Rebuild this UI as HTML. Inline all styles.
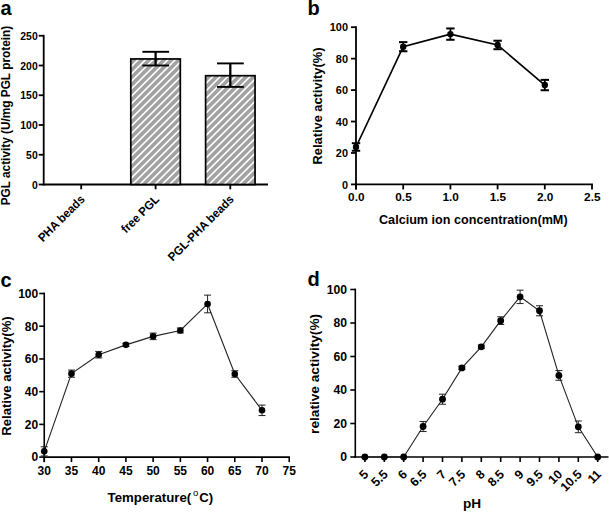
<!DOCTYPE html>
<html><head><meta charset="utf-8"><style>
html,body{margin:0;padding:0;background:#fff;width:609px;height:512px;overflow:hidden}
svg{display:block}
text{font-family:"Liberation Sans",sans-serif;font-weight:bold;fill:#000}
</style></head><body>
<svg width="609" height="512" viewBox="0 0 609 512">

<rect width="609" height="512" fill="#fff"/>
<text x="0.60" y="14.60" font-size="20" text-anchor="start">a</text>
<line x1="43.70" y1="34.85" x2="43.70" y2="185.40" stroke="#000" stroke-width="1.8"/>
<line x1="38.70" y1="184.50" x2="43.70" y2="184.50" stroke="#000" stroke-width="1.8"/>
<text x="37.70" y="188.50" font-size="11.2" text-anchor="end" textLength="5.79" lengthAdjust="spacingAndGlyphs">0</text>
<line x1="38.70" y1="154.75" x2="43.70" y2="154.75" stroke="#000" stroke-width="1.8"/>
<text x="37.70" y="158.75" font-size="11.2" text-anchor="end" textLength="11.58" lengthAdjust="spacingAndGlyphs">50</text>
<line x1="38.70" y1="125.00" x2="43.70" y2="125.00" stroke="#000" stroke-width="1.8"/>
<text x="37.70" y="129.00" font-size="11.2" text-anchor="end" textLength="17.37" lengthAdjust="spacingAndGlyphs">100</text>
<line x1="38.70" y1="95.25" x2="43.70" y2="95.25" stroke="#000" stroke-width="1.8"/>
<text x="37.70" y="99.25" font-size="11.2" text-anchor="end" textLength="17.37" lengthAdjust="spacingAndGlyphs">150</text>
<line x1="38.70" y1="65.50" x2="43.70" y2="65.50" stroke="#000" stroke-width="1.8"/>
<text x="37.70" y="69.50" font-size="11.2" text-anchor="end" textLength="17.37" lengthAdjust="spacingAndGlyphs">200</text>
<line x1="38.70" y1="35.75" x2="43.70" y2="35.75" stroke="#000" stroke-width="1.8"/>
<text x="37.70" y="39.75" font-size="11.2" text-anchor="end" textLength="17.37" lengthAdjust="spacingAndGlyphs">250</text>
<line x1="42.80" y1="184.50" x2="268.00" y2="184.50" stroke="#000" stroke-width="1.8"/>
<line x1="81.20" y1="184.50" x2="81.20" y2="189.30" stroke="#000" stroke-width="1.8"/>
<line x1="155.60" y1="184.50" x2="155.60" y2="189.30" stroke="#000" stroke-width="1.8"/>
<line x1="230.30" y1="184.50" x2="230.30" y2="189.30" stroke="#000" stroke-width="1.8"/>
<clipPath id="cb0"><rect x="130.80" y="58.95" width="49.50" height="125.55"/></clipPath>
<rect x="130.80" y="58.95" width="49.50" height="125.55" fill="#a2a2a2"/>
<path clip-path="url(#cb0)" d="M125.80,49.72L185.30,-9.78M125.80,57.16L185.30,-2.34M125.80,64.60L185.30,5.10M125.80,72.04L185.30,12.54M125.80,79.48L185.30,19.98M125.80,86.92L185.30,27.42M125.80,94.36L185.30,34.86M125.80,101.80L185.30,42.30M125.80,109.24L185.30,49.74M125.80,116.68L185.30,57.18M125.80,124.12L185.30,64.62M125.80,131.56L185.30,72.06M125.80,139.00L185.30,79.50M125.80,146.44L185.30,86.94M125.80,153.88L185.30,94.38M125.80,161.32L185.30,101.82M125.80,168.76L185.30,109.26M125.80,176.20L185.30,116.70M125.80,183.64L185.30,124.14M125.80,191.08L185.30,131.58M125.80,198.52L185.30,139.02M125.80,205.96L185.30,146.46M125.80,213.40L185.30,153.90M125.80,220.84L185.30,161.34M125.80,228.28L185.30,168.78M125.80,235.72L185.30,176.22M125.80,243.16L185.30,183.66M125.80,250.60L185.30,191.10" stroke="#fff" stroke-width="1.6" fill="none"/>
<rect x="130.80" y="58.95" width="49.50" height="125.55" fill="none" stroke="#000" stroke-width="1.7"/>
<clipPath id="cb1"><rect x="205.60" y="75.70" width="49.45" height="108.80"/></clipPath>
<rect x="205.60" y="75.70" width="49.45" height="108.80" fill="#a2a2a2"/>
<path clip-path="url(#cb1)" d="M200.60,66.50L260.05,7.05M200.60,73.94L260.05,14.49M200.60,81.38L260.05,21.93M200.60,88.82L260.05,29.37M200.60,96.26L260.05,36.81M200.60,103.70L260.05,44.25M200.60,111.14L260.05,51.69M200.60,118.58L260.05,59.13M200.60,126.02L260.05,66.57M200.60,133.46L260.05,74.01M200.60,140.90L260.05,81.45M200.60,148.34L260.05,88.89M200.60,155.78L260.05,96.33M200.60,163.22L260.05,103.77M200.60,170.66L260.05,111.21M200.60,178.10L260.05,118.65M200.60,185.54L260.05,126.09M200.60,192.98L260.05,133.53M200.60,200.42L260.05,140.97M200.60,207.86L260.05,148.41M200.60,215.30L260.05,155.85M200.60,222.74L260.05,163.29M200.60,230.18L260.05,170.73M200.60,237.62L260.05,178.17M200.60,245.06L260.05,185.61M200.60,252.50L260.05,193.05" stroke="#fff" stroke-width="1.6" fill="none"/>
<rect x="205.60" y="75.70" width="49.45" height="108.80" fill="none" stroke="#000" stroke-width="1.7"/>
<line x1="155.60" y1="51.80" x2="155.60" y2="65.50" stroke="#000" stroke-width="2.3"/>
<line x1="142.40" y1="51.80" x2="169.10" y2="51.80" stroke="#000" stroke-width="1.9"/>
<line x1="142.40" y1="65.50" x2="169.10" y2="65.50" stroke="#000" stroke-width="1.9"/>
<line x1="230.30" y1="63.40" x2="230.30" y2="86.90" stroke="#000" stroke-width="2.3"/>
<line x1="217.00" y1="63.40" x2="243.80" y2="63.40" stroke="#000" stroke-width="1.9"/>
<line x1="217.00" y1="86.90" x2="243.80" y2="86.90" stroke="#000" stroke-width="1.9"/>
<text x="0" y="0" font-size="12" text-anchor="end" textLength="60.2" lengthAdjust="spacingAndGlyphs" transform="translate(85.50,200.00) rotate(-45)">PHA beads</text>
<text x="0" y="0" font-size="12" text-anchor="end" textLength="47.8" lengthAdjust="spacingAndGlyphs" transform="translate(159.90,200.00) rotate(-45)">free PGL</text>
<text x="0" y="0" font-size="12" text-anchor="end" textLength="87.4" lengthAdjust="spacingAndGlyphs" transform="translate(234.60,200.00) rotate(-45)">PGL-PHA beads</text>
<text x="0" y="0" font-size="12.3" text-anchor="middle" textLength="179.5" lengthAdjust="spacingAndGlyphs" transform="translate(10.00,115.60) rotate(-90)">PGL activity (U/mg PGL protein)</text>
<text x="307.40" y="14.60" font-size="20" text-anchor="start">b</text>
<line x1="356.00" y1="26.30" x2="356.00" y2="189.40" stroke="#000" stroke-width="1.8"/>
<line x1="351.00" y1="184.40" x2="356.00" y2="184.40" stroke="#000" stroke-width="1.8"/>
<text x="348.00" y="188.50" font-size="11.5" text-anchor="end" textLength="6.07" lengthAdjust="spacingAndGlyphs">0</text>
<line x1="351.00" y1="152.96" x2="356.00" y2="152.96" stroke="#000" stroke-width="1.8"/>
<text x="348.00" y="157.06" font-size="11.5" text-anchor="end" textLength="12.15" lengthAdjust="spacingAndGlyphs">20</text>
<line x1="351.00" y1="121.52" x2="356.00" y2="121.52" stroke="#000" stroke-width="1.8"/>
<text x="348.00" y="125.62" font-size="11.5" text-anchor="end" textLength="12.15" lengthAdjust="spacingAndGlyphs">40</text>
<line x1="351.00" y1="90.08" x2="356.00" y2="90.08" stroke="#000" stroke-width="1.8"/>
<text x="348.00" y="94.18" font-size="11.5" text-anchor="end" textLength="12.15" lengthAdjust="spacingAndGlyphs">60</text>
<line x1="351.00" y1="58.64" x2="356.00" y2="58.64" stroke="#000" stroke-width="1.8"/>
<text x="348.00" y="62.74" font-size="11.5" text-anchor="end" textLength="12.15" lengthAdjust="spacingAndGlyphs">80</text>
<line x1="351.00" y1="27.20" x2="356.00" y2="27.20" stroke="#000" stroke-width="1.8"/>
<text x="348.00" y="31.30" font-size="11.5" text-anchor="end" textLength="18.22" lengthAdjust="spacingAndGlyphs">100</text>
<line x1="355.10" y1="184.40" x2="592.90" y2="184.40" stroke="#000" stroke-width="1.8"/>
<line x1="356.00" y1="184.40" x2="356.00" y2="189.40" stroke="#000" stroke-width="1.8"/>
<text x="356.30" y="201.30" font-size="11.8" text-anchor="middle">0.0</text>
<line x1="403.20" y1="184.40" x2="403.20" y2="189.40" stroke="#000" stroke-width="1.8"/>
<text x="403.50" y="201.30" font-size="11.8" text-anchor="middle">0.5</text>
<line x1="450.40" y1="184.40" x2="450.40" y2="189.40" stroke="#000" stroke-width="1.8"/>
<text x="450.70" y="201.30" font-size="11.8" text-anchor="middle">1.0</text>
<line x1="497.60" y1="184.40" x2="497.60" y2="189.40" stroke="#000" stroke-width="1.8"/>
<text x="497.90" y="201.30" font-size="11.8" text-anchor="middle">1.5</text>
<line x1="544.80" y1="184.40" x2="544.80" y2="189.40" stroke="#000" stroke-width="1.8"/>
<text x="545.10" y="201.30" font-size="11.8" text-anchor="middle">2.0</text>
<line x1="592.00" y1="184.40" x2="592.00" y2="189.40" stroke="#000" stroke-width="1.8"/>
<text x="592.30" y="201.30" font-size="11.8" text-anchor="middle">2.5</text>
<text x="379.00" y="224.40" font-size="13.4" text-anchor="start" textLength="188.6" lengthAdjust="spacingAndGlyphs">Calcium ion concentration(mM)</text>
<text x="0" y="0" font-size="13.2" text-anchor="middle" textLength="116.8" lengthAdjust="spacingAndGlyphs" transform="translate(322.20,106.00) rotate(-90)">Relative activity(%)</text>
<polyline fill="none" stroke="#000" stroke-width="1.7" points="356.00,146.99 403.20,46.69 450.40,34.12 497.60,44.96 544.80,85.05"/>
<line x1="356.00" y1="143.21" x2="356.00" y2="150.76" stroke="#000" stroke-width="1.8"/>
<line x1="351.80" y1="143.21" x2="360.20" y2="143.21" stroke="#000" stroke-width="2"/>
<line x1="351.80" y1="150.76" x2="360.20" y2="150.76" stroke="#000" stroke-width="2"/>
<circle cx="356.00" cy="146.99" r="3.2" fill="#000"/>
<line x1="403.20" y1="42.13" x2="403.20" y2="51.25" stroke="#000" stroke-width="1.8"/>
<line x1="399.00" y1="42.13" x2="407.40" y2="42.13" stroke="#000" stroke-width="2"/>
<line x1="399.00" y1="51.25" x2="407.40" y2="51.25" stroke="#000" stroke-width="2"/>
<circle cx="403.20" cy="46.69" r="3.2" fill="#000"/>
<line x1="450.40" y1="28.46" x2="450.40" y2="39.78" stroke="#000" stroke-width="1.8"/>
<line x1="446.20" y1="28.46" x2="454.60" y2="28.46" stroke="#000" stroke-width="2"/>
<line x1="446.20" y1="39.78" x2="454.60" y2="39.78" stroke="#000" stroke-width="2"/>
<circle cx="450.40" cy="34.12" r="3.2" fill="#000"/>
<line x1="497.60" y1="40.72" x2="497.60" y2="49.21" stroke="#000" stroke-width="1.8"/>
<line x1="493.40" y1="40.72" x2="501.80" y2="40.72" stroke="#000" stroke-width="2"/>
<line x1="493.40" y1="49.21" x2="501.80" y2="49.21" stroke="#000" stroke-width="2"/>
<circle cx="497.60" cy="44.96" r="3.2" fill="#000"/>
<line x1="544.80" y1="79.86" x2="544.80" y2="90.24" stroke="#000" stroke-width="1.8"/>
<line x1="540.60" y1="79.86" x2="549.00" y2="79.86" stroke="#000" stroke-width="2"/>
<line x1="540.60" y1="90.24" x2="549.00" y2="90.24" stroke="#000" stroke-width="2"/>
<circle cx="544.80" cy="85.05" r="3.2" fill="#000"/>
<text x="0.60" y="286.80" font-size="20" text-anchor="start">c</text>
<line x1="44.25" y1="292.60" x2="44.25" y2="462.10" stroke="#000" stroke-width="1.6"/>
<line x1="39.25" y1="457.10" x2="44.25" y2="457.10" stroke="#000" stroke-width="1.6"/>
<text x="38.20" y="461.40" font-size="12" text-anchor="end">0</text>
<line x1="39.25" y1="424.38" x2="44.25" y2="424.38" stroke="#000" stroke-width="1.6"/>
<text x="38.20" y="428.68" font-size="12" text-anchor="end">20</text>
<line x1="39.25" y1="391.66" x2="44.25" y2="391.66" stroke="#000" stroke-width="1.6"/>
<text x="38.20" y="395.96" font-size="12" text-anchor="end">40</text>
<line x1="39.25" y1="358.94" x2="44.25" y2="358.94" stroke="#000" stroke-width="1.6"/>
<text x="38.20" y="363.24" font-size="12" text-anchor="end">60</text>
<line x1="39.25" y1="326.22" x2="44.25" y2="326.22" stroke="#000" stroke-width="1.6"/>
<text x="38.20" y="330.52" font-size="12" text-anchor="end">80</text>
<line x1="39.25" y1="293.50" x2="44.25" y2="293.50" stroke="#000" stroke-width="1.6"/>
<text x="38.20" y="297.80" font-size="12" text-anchor="end">100</text>
<line x1="43.35" y1="457.10" x2="290.00" y2="457.10" stroke="#000" stroke-width="1.6"/>
<line x1="44.25" y1="457.10" x2="44.25" y2="462.10" stroke="#000" stroke-width="1.6"/>
<text x="44.25" y="474.50" font-size="12" text-anchor="middle">30</text>
<line x1="71.47" y1="457.10" x2="71.47" y2="462.10" stroke="#000" stroke-width="1.6"/>
<text x="71.47" y="474.50" font-size="12" text-anchor="middle">35</text>
<line x1="98.69" y1="457.10" x2="98.69" y2="462.10" stroke="#000" stroke-width="1.6"/>
<text x="98.69" y="474.50" font-size="12" text-anchor="middle">40</text>
<line x1="125.91" y1="457.10" x2="125.91" y2="462.10" stroke="#000" stroke-width="1.6"/>
<text x="125.91" y="474.50" font-size="12" text-anchor="middle">45</text>
<line x1="153.13" y1="457.10" x2="153.13" y2="462.10" stroke="#000" stroke-width="1.6"/>
<text x="153.13" y="474.50" font-size="12" text-anchor="middle">50</text>
<line x1="180.35" y1="457.10" x2="180.35" y2="462.10" stroke="#000" stroke-width="1.6"/>
<text x="180.35" y="474.50" font-size="12" text-anchor="middle">55</text>
<line x1="207.57" y1="457.10" x2="207.57" y2="462.10" stroke="#000" stroke-width="1.6"/>
<text x="207.57" y="474.50" font-size="12" text-anchor="middle">60</text>
<line x1="234.79" y1="457.10" x2="234.79" y2="462.10" stroke="#000" stroke-width="1.6"/>
<text x="234.79" y="474.50" font-size="12" text-anchor="middle">65</text>
<line x1="262.01" y1="457.10" x2="262.01" y2="462.10" stroke="#000" stroke-width="1.6"/>
<text x="262.01" y="474.50" font-size="12" text-anchor="middle">70</text>
<line x1="289.23" y1="457.10" x2="289.23" y2="462.10" stroke="#000" stroke-width="1.6"/>
<text x="289.23" y="474.50" font-size="12" text-anchor="middle">75</text>
<text x="107.60" y="502.30" font-size="13.2" text-anchor="start" textLength="83.6" lengthAdjust="spacingAndGlyphs">Temperature(</text>
<text x="193.00" y="496.40" font-size="9.5" text-anchor="start" font-weight="normal" style="font-weight:normal">o</text>
<text x="199.20" y="502.30" font-size="13.2" text-anchor="start">C)</text>
<text x="0" y="0" font-size="13.3" text-anchor="middle" textLength="119.3" lengthAdjust="spacingAndGlyphs" transform="translate(10.70,376.00) rotate(-90)">Relative activity(%)</text>
<polyline fill="none" stroke="#222" stroke-width="1.1" points="44.25,451.37 71.47,373.66 98.69,354.69 125.91,344.87 153.13,336.36 180.35,330.47 207.57,303.97 234.79,373.99 262.01,410.31"/>
<line x1="44.25" y1="446.79" x2="44.25" y2="455.95" stroke="#222" stroke-width="1"/>
<line x1="40.75" y1="446.79" x2="47.75" y2="446.79" stroke="#222" stroke-width="1"/>
<line x1="40.75" y1="455.95" x2="47.75" y2="455.95" stroke="#222" stroke-width="1"/>
<circle cx="44.25" cy="451.37" r="3.3" fill="#000"/>
<line x1="71.47" y1="370.06" x2="71.47" y2="377.26" stroke="#222" stroke-width="1"/>
<line x1="67.97" y1="370.06" x2="74.97" y2="370.06" stroke="#222" stroke-width="1"/>
<line x1="67.97" y1="377.26" x2="74.97" y2="377.26" stroke="#222" stroke-width="1"/>
<circle cx="71.47" cy="373.66" r="3.3" fill="#000"/>
<line x1="98.69" y1="351.41" x2="98.69" y2="357.96" stroke="#222" stroke-width="1"/>
<line x1="95.19" y1="351.41" x2="102.19" y2="351.41" stroke="#222" stroke-width="1"/>
<line x1="95.19" y1="357.96" x2="102.19" y2="357.96" stroke="#222" stroke-width="1"/>
<circle cx="98.69" cy="354.69" r="3.3" fill="#000"/>
<line x1="125.91" y1="343.23" x2="125.91" y2="346.51" stroke="#222" stroke-width="1"/>
<line x1="122.41" y1="343.23" x2="129.41" y2="343.23" stroke="#222" stroke-width="1"/>
<line x1="122.41" y1="346.51" x2="129.41" y2="346.51" stroke="#222" stroke-width="1"/>
<circle cx="125.91" cy="344.87" r="3.3" fill="#000"/>
<line x1="153.13" y1="333.09" x2="153.13" y2="339.64" stroke="#222" stroke-width="1"/>
<line x1="149.63" y1="333.09" x2="156.63" y2="333.09" stroke="#222" stroke-width="1"/>
<line x1="149.63" y1="339.64" x2="156.63" y2="339.64" stroke="#222" stroke-width="1"/>
<circle cx="153.13" cy="336.36" r="3.3" fill="#000"/>
<line x1="180.35" y1="328.02" x2="180.35" y2="332.93" stroke="#222" stroke-width="1"/>
<line x1="176.85" y1="328.02" x2="183.85" y2="328.02" stroke="#222" stroke-width="1"/>
<line x1="176.85" y1="332.93" x2="183.85" y2="332.93" stroke="#222" stroke-width="1"/>
<circle cx="180.35" cy="330.47" r="3.3" fill="#000"/>
<line x1="207.57" y1="295.14" x2="207.57" y2="312.80" stroke="#222" stroke-width="1"/>
<line x1="204.07" y1="295.14" x2="211.07" y2="295.14" stroke="#222" stroke-width="1"/>
<line x1="204.07" y1="312.80" x2="211.07" y2="312.80" stroke="#222" stroke-width="1"/>
<circle cx="207.57" cy="303.97" r="3.3" fill="#000"/>
<line x1="234.79" y1="370.72" x2="234.79" y2="377.26" stroke="#222" stroke-width="1"/>
<line x1="231.29" y1="370.72" x2="238.29" y2="370.72" stroke="#222" stroke-width="1"/>
<line x1="231.29" y1="377.26" x2="238.29" y2="377.26" stroke="#222" stroke-width="1"/>
<circle cx="234.79" cy="373.99" r="3.3" fill="#000"/>
<line x1="262.01" y1="405.08" x2="262.01" y2="415.55" stroke="#222" stroke-width="1"/>
<line x1="258.51" y1="405.08" x2="265.51" y2="405.08" stroke="#222" stroke-width="1"/>
<line x1="258.51" y1="415.55" x2="265.51" y2="415.55" stroke="#222" stroke-width="1"/>
<circle cx="262.01" cy="410.31" r="3.3" fill="#000"/>
<text x="307.40" y="285.60" font-size="20" text-anchor="start">d</text>
<line x1="355.30" y1="288.60" x2="355.30" y2="457.90" stroke="#000" stroke-width="1.6"/>
<line x1="350.30" y1="457.00" x2="355.30" y2="457.00" stroke="#000" stroke-width="1.6"/>
<text x="347.00" y="461.30" font-size="12.2" text-anchor="end">0</text>
<line x1="350.30" y1="423.50" x2="355.30" y2="423.50" stroke="#000" stroke-width="1.6"/>
<text x="347.00" y="427.80" font-size="12.2" text-anchor="end">20</text>
<line x1="350.30" y1="390.00" x2="355.30" y2="390.00" stroke="#000" stroke-width="1.6"/>
<text x="347.00" y="394.30" font-size="12.2" text-anchor="end">40</text>
<line x1="350.30" y1="356.50" x2="355.30" y2="356.50" stroke="#000" stroke-width="1.6"/>
<text x="347.00" y="360.80" font-size="12.2" text-anchor="end">60</text>
<line x1="350.30" y1="323.00" x2="355.30" y2="323.00" stroke="#000" stroke-width="1.6"/>
<text x="347.00" y="327.30" font-size="12.2" text-anchor="end">80</text>
<line x1="350.30" y1="289.50" x2="355.30" y2="289.50" stroke="#000" stroke-width="1.6"/>
<text x="347.00" y="293.80" font-size="12.2" text-anchor="end">100</text>
<line x1="354.40" y1="457.00" x2="608.50" y2="457.00" stroke="#000" stroke-width="1.6"/>
<line x1="364.90" y1="457.00" x2="364.90" y2="462.00" stroke="#000" stroke-width="1.6"/>
<text x="0" y="0" font-size="12.5" text-anchor="end" transform="translate(369.20,475.00) rotate(-45)">5</text>
<line x1="384.30" y1="457.00" x2="384.30" y2="462.00" stroke="#000" stroke-width="1.6"/>
<text x="0" y="0" font-size="12.5" text-anchor="end" transform="translate(388.60,475.00) rotate(-45)">5.5</text>
<line x1="403.70" y1="457.00" x2="403.70" y2="462.00" stroke="#000" stroke-width="1.6"/>
<text x="0" y="0" font-size="12.5" text-anchor="end" transform="translate(408.00,475.00) rotate(-45)">6</text>
<line x1="423.10" y1="457.00" x2="423.10" y2="462.00" stroke="#000" stroke-width="1.6"/>
<text x="0" y="0" font-size="12.5" text-anchor="end" transform="translate(427.40,475.00) rotate(-45)">6.5</text>
<line x1="442.50" y1="457.00" x2="442.50" y2="462.00" stroke="#000" stroke-width="1.6"/>
<text x="0" y="0" font-size="12.5" text-anchor="end" transform="translate(446.80,475.00) rotate(-45)">7</text>
<line x1="461.90" y1="457.00" x2="461.90" y2="462.00" stroke="#000" stroke-width="1.6"/>
<text x="0" y="0" font-size="12.5" text-anchor="end" transform="translate(466.20,475.00) rotate(-45)">7.5</text>
<line x1="481.30" y1="457.00" x2="481.30" y2="462.00" stroke="#000" stroke-width="1.6"/>
<text x="0" y="0" font-size="12.5" text-anchor="end" transform="translate(485.60,475.00) rotate(-45)">8</text>
<line x1="500.70" y1="457.00" x2="500.70" y2="462.00" stroke="#000" stroke-width="1.6"/>
<text x="0" y="0" font-size="12.5" text-anchor="end" transform="translate(505.00,475.00) rotate(-45)">8.5</text>
<line x1="520.10" y1="457.00" x2="520.10" y2="462.00" stroke="#000" stroke-width="1.6"/>
<text x="0" y="0" font-size="12.5" text-anchor="end" transform="translate(524.40,475.00) rotate(-45)">9</text>
<line x1="539.50" y1="457.00" x2="539.50" y2="462.00" stroke="#000" stroke-width="1.6"/>
<text x="0" y="0" font-size="12.5" text-anchor="end" transform="translate(543.80,475.00) rotate(-45)">9.5</text>
<line x1="558.90" y1="457.00" x2="558.90" y2="462.00" stroke="#000" stroke-width="1.6"/>
<text x="0" y="0" font-size="12.5" text-anchor="end" transform="translate(563.20,475.00) rotate(-45)">10</text>
<line x1="578.30" y1="457.00" x2="578.30" y2="462.00" stroke="#000" stroke-width="1.6"/>
<text x="0" y="0" font-size="12.5" text-anchor="end" transform="translate(582.60,475.00) rotate(-45)">10.5</text>
<line x1="597.70" y1="457.00" x2="597.70" y2="462.00" stroke="#000" stroke-width="1.6"/>
<text x="0" y="0" font-size="12.5" text-anchor="end" transform="translate(602.00,475.00) rotate(-45)">11</text>
<text x="463.00" y="507.80" font-size="13.6" text-anchor="start">pH</text>
<text x="0" y="0" font-size="13.6" text-anchor="middle" textLength="120" lengthAdjust="spacingAndGlyphs" transform="translate(318.90,373.90) rotate(-90)">relative activity(%)</text>
<polyline fill="none" stroke="#222" stroke-width="1.1" points="364.90,457.00 384.30,457.00 403.70,457.00 423.10,426.51 442.50,399.21 461.90,367.89 481.30,346.78 500.70,320.65 520.10,296.87 539.50,310.77 558.90,375.43 578.30,426.85 597.70,457.00"/>
<circle cx="364.90" cy="457.00" r="3.4" fill="#000"/>
<circle cx="384.30" cy="457.00" r="3.4" fill="#000"/>
<circle cx="403.70" cy="457.00" r="3.4" fill="#000"/>
<line x1="423.10" y1="421.49" x2="423.10" y2="431.54" stroke="#222" stroke-width="1"/>
<line x1="419.60" y1="421.49" x2="426.60" y2="421.49" stroke="#222" stroke-width="1"/>
<line x1="419.60" y1="431.54" x2="426.60" y2="431.54" stroke="#222" stroke-width="1"/>
<circle cx="423.10" cy="426.51" r="3.4" fill="#000"/>
<line x1="442.50" y1="394.19" x2="442.50" y2="404.24" stroke="#222" stroke-width="1"/>
<line x1="439.00" y1="394.19" x2="446.00" y2="394.19" stroke="#222" stroke-width="1"/>
<line x1="439.00" y1="404.24" x2="446.00" y2="404.24" stroke="#222" stroke-width="1"/>
<circle cx="442.50" cy="399.21" r="3.4" fill="#000"/>
<line x1="461.90" y1="366.21" x2="461.90" y2="369.56" stroke="#222" stroke-width="1"/>
<line x1="458.40" y1="366.21" x2="465.40" y2="366.21" stroke="#222" stroke-width="1"/>
<line x1="458.40" y1="369.56" x2="465.40" y2="369.56" stroke="#222" stroke-width="1"/>
<circle cx="461.90" cy="367.89" r="3.4" fill="#000"/>
<line x1="481.30" y1="345.11" x2="481.30" y2="348.46" stroke="#222" stroke-width="1"/>
<line x1="477.80" y1="345.11" x2="484.80" y2="345.11" stroke="#222" stroke-width="1"/>
<line x1="477.80" y1="348.46" x2="484.80" y2="348.46" stroke="#222" stroke-width="1"/>
<circle cx="481.30" cy="346.78" r="3.4" fill="#000"/>
<line x1="500.70" y1="316.80" x2="500.70" y2="324.51" stroke="#222" stroke-width="1"/>
<line x1="497.20" y1="316.80" x2="504.20" y2="316.80" stroke="#222" stroke-width="1"/>
<line x1="497.20" y1="324.51" x2="504.20" y2="324.51" stroke="#222" stroke-width="1"/>
<circle cx="500.70" cy="320.65" r="3.4" fill="#000"/>
<line x1="520.10" y1="290.17" x2="520.10" y2="303.57" stroke="#222" stroke-width="1"/>
<line x1="516.60" y1="290.17" x2="523.60" y2="290.17" stroke="#222" stroke-width="1"/>
<line x1="516.60" y1="303.57" x2="523.60" y2="303.57" stroke="#222" stroke-width="1"/>
<circle cx="520.10" cy="296.87" r="3.4" fill="#000"/>
<line x1="539.50" y1="305.75" x2="539.50" y2="315.80" stroke="#222" stroke-width="1"/>
<line x1="536.00" y1="305.75" x2="543.00" y2="305.75" stroke="#222" stroke-width="1"/>
<line x1="536.00" y1="315.80" x2="543.00" y2="315.80" stroke="#222" stroke-width="1"/>
<circle cx="539.50" cy="310.77" r="3.4" fill="#000"/>
<line x1="558.90" y1="370.57" x2="558.90" y2="380.29" stroke="#222" stroke-width="1"/>
<line x1="555.40" y1="370.57" x2="562.40" y2="370.57" stroke="#222" stroke-width="1"/>
<line x1="555.40" y1="380.29" x2="562.40" y2="380.29" stroke="#222" stroke-width="1"/>
<circle cx="558.90" cy="375.43" r="3.4" fill="#000"/>
<line x1="578.30" y1="420.99" x2="578.30" y2="432.71" stroke="#222" stroke-width="1"/>
<line x1="574.80" y1="420.99" x2="581.80" y2="420.99" stroke="#222" stroke-width="1"/>
<line x1="574.80" y1="432.71" x2="581.80" y2="432.71" stroke="#222" stroke-width="1"/>
<circle cx="578.30" cy="426.85" r="3.4" fill="#000"/>
<circle cx="597.70" cy="457.00" r="3.4" fill="#000"/>
</svg>
</body></html>
